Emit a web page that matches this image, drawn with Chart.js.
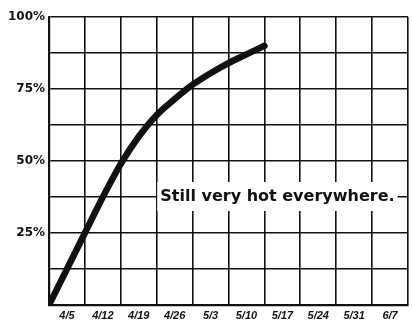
<!DOCTYPE html>
<html>
<head>
<meta charset="utf-8">
<script src="https://cdn.jsdelivr.net/npm/chart.js@4"></script>
<style>
  html, body { margin: 0; padding: 0; background: #fff; }
  canvas { display: block; }
</style>
</head>
<body>
<canvas id="hotChart" width="412" height="320"></canvas>
<script>
// weekly tick labels along the bottom
const weekLabels = ['4/5', '4/12', '4/19', '4/26', '5/3', '5/10', '5/17', '5/24', '5/31', '6/7'];
// share reached, read every half week (percent)
const weekPos = [0, 0.5, 1, 1.5, 2, 2.5, 3, 3.5, 4, 4.5, 5, 5.5, 6];
const sharePct = [0, 12.5, 25, 37.5, 49, 58.5, 66, 71.5, 76.5, 80.5, 84, 87, 90];
const yTickLabels = { 25: '25%', 50: '50%', 75: '75%', 100: '100%' };
const noteText = 'Still very hot everywhere.';

const ink = '#111';

// white box with the note on top of the grid
const notePlugin = {
    id: 'note',
    afterDatasetsDraw(chart) {
        const ctx = chart.ctx;
        const xs = chart.scales.x, ys = chart.scales.y;
        const left = xs.getPixelForValue(3.1);
        const mid = ys.getPixelForValue(37.5);
        ctx.save();
        ctx.font = 'bold 16px "DejaVu Sans", sans-serif';
        const w = ctx.measureText(noteText).width;
        ctx.fillStyle = '#fff';
        ctx.fillRect(left - 3, mid - 15, w + 6, 29);
        ctx.fillStyle = ink;
        ctx.textBaseline = 'middle';
        ctx.fillText(noteText, left, mid);
        ctx.restore();
    }
};

new Chart(document.getElementById('hotChart'), {
    type: 'line',
    data: {
        datasets: [{
            data: weekPos.map((w, i) => ({ x: w, y: sharePct[i] })),
            borderColor: ink,
            borderWidth: 6.5,
            borderCapStyle: 'round',
            borderJoinStyle: 'round',
            pointRadius: 0,
            cubicInterpolationMode: 'monotone',
            fill: false
        }]
    },
    options: {
        responsive: false,
        animation: false,
        devicePixelRatio: 1,
        layout: { padding: { top: 17, right: 3, left: 0, bottom: 0 } },
        plugins: { legend: { display: false }, tooltip: { enabled: false } },
        scales: {
            x: {
                type: 'linear',
                min: 0,
                max: weekLabels.length,
                afterBuildTicks(scale) {
                    const t = [];
                    for (let v = 0; v <= weekLabels.length; v += 0.5) t.push({ value: v });
                    scale.ticks = t;
                },
                afterFit(scale) { scale.height = 15; },
                grid: {
                    drawTicks: false,
                    lineWidth: 1.6,
                    color: c => (c.tick && c.tick.value % 1 === 0) ? ink : 'rgba(0,0,0,0)'
                },
                border: { color: ink, width: 2.2 },
                ticks: {
                    autoSkip: false,
                    maxRotation: 0,
                    padding: 4,
                    color: ink,
                    font: { family: '"Liberation Sans", Arial, sans-serif', size: 11, weight: 'bold', style: 'italic' },
                    callback: v => (v % 1 === 0.5) ? weekLabels[Math.floor(v)] : ''
                }
            },
            y: {
                min: 0,
                max: 100,
                afterFit(scale) { scale.width = 49; },
                grid: { drawTicks: false, lineWidth: 1.6, color: ink },
                border: { color: ink, width: 2.2 },
                ticks: {
                    stepSize: 12.5,
                    padding: 4,
                    color: ink,
                    font: { family: '"DejaVu Sans", sans-serif', size: 12, weight: 'bold' },
                    callback: v => yTickLabels[v] || ''
                }
            }
        }
    },
    plugins: [notePlugin]
});
</script>
</body>
</html>
